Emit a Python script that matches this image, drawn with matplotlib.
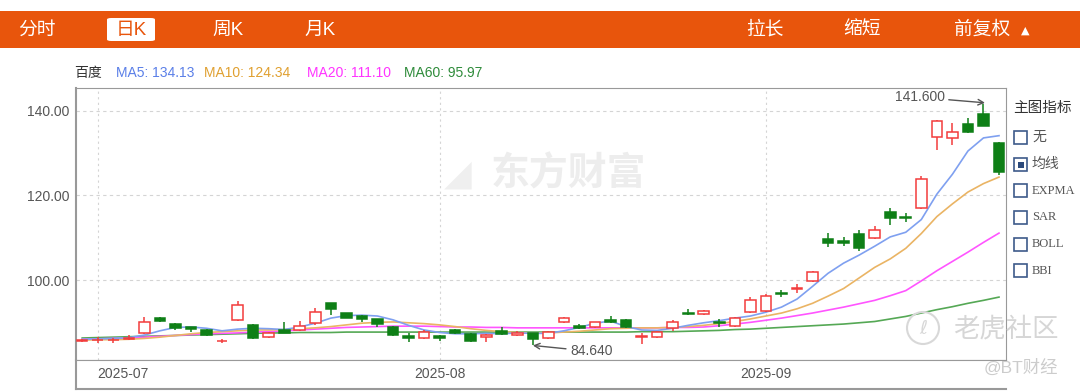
import numpy as np
import pandas as pd
import matplotlib
matplotlib.use("Agg")
import matplotlib.pyplot as plt
from matplotlib.patches import Rectangle, FancyBboxPatch, Ellipse

plt.rcParams['font.family'] = ['Liberation Sans', 'Noto Sans CJK SC', 'DejaVu Sans']

# trading days (US market: 07-04 and 09-01 closed)
days = pd.bdate_range('2025-06-30', '2025-09-23')
days = days[~days.isin(pd.to_datetime(['2025-07-04', '2025-09-01']))]

opens = [85.6, 85.8, 85.8, 86.1, 87.4, 91.1, 89.6, 88.9, 88.2, 85.5,
         90.5, 89.3, 86.6, 88.3, 88.2, 89.9, 94.5, 92.1, 91.6, 90.7,
         88.9, 86.8, 86.2, 86.8, 88.3, 87.2, 86.6, 87.9, 87.1, 87.4,
         86.2, 90.0, 89.1, 88.9, 90.6, 90.5, 86.5, 86.6, 88.6, 92.3,
         91.9, 90.0, 89.2, 92.5, 92.7, 97.0, 97.9, 99.8, 109.6, 109.2,
         111.0, 109.9, 116.2, 115.0, 117.0, 133.9, 133.5, 136.9, 139.2, 132.5]
highs = [86.1, 86.6, 86.3, 86.9, 91.3, 91.3, 89.8, 89.0, 88.4, 86.0,
         95.0, 89.6, 87.8, 90.1, 90.4, 93.3, 94.6, 92.2, 91.7, 90.9,
         89.2, 87.4, 88.1, 87.0, 88.5, 87.5, 87.3, 89.0, 87.9, 87.6,
         88.0, 91.2, 89.7, 90.2, 91.4, 90.9, 87.5, 88.0, 90.6, 93.2,
         92.9, 90.7, 91.3, 96.0, 96.8, 97.6, 99.1, 102.1, 111.2, 110.2,
         111.8, 112.8, 117.0, 115.8, 124.6, 137.9, 137.2, 138.3, 141.6, 132.6]
lows = [85.3, 85.2, 85.1, 85.9, 87.2, 90.2, 88.3, 87.7, 86.8, 85.2,
        90.4, 86.0, 86.3, 87.4, 87.9, 89.3, 91.8, 91.0, 90.1, 88.9,
        86.8, 85.4, 86.0, 85.7, 87.2, 85.4, 85.4, 87.1, 86.8, 84.64,
        86.0, 89.9, 88.4, 88.7, 89.9, 88.7, 85.0, 86.3, 88.0, 91.8,
        91.7, 89.0, 88.8, 92.3, 92.4, 95.9, 96.9, 99.6, 107.7, 108.0,
        106.8, 109.7, 113.0, 113.8, 116.8, 130.8, 132.0, 134.7, 136.3, 124.9]
closes = [85.9, 85.9, 85.9, 86.3, 90.0, 90.4, 88.7, 88.4, 87.0, 85.7,
          94.0, 86.3, 87.5, 87.6, 89.1, 92.5, 93.1, 91.1, 90.8, 89.5,
          87.0, 86.2, 87.8, 86.2, 87.4, 85.6, 87.1, 87.3, 87.6, 86.0,
          87.8, 91.0, 88.6, 90.0, 90.0, 88.9, 86.7, 87.8, 90.1, 91.9,
          92.7, 89.8, 91.1, 95.3, 96.2, 96.6, 98.2, 102.0, 108.7, 108.8,
          107.5, 111.8, 114.6, 114.7, 123.8, 137.7, 135.1, 135.1, 136.4, 125.5]

ma5 = [86.0, 86.1, 86.2, 86.4, 87.0, 88.0, 88.8, 88.9, 88.6, 88.0,
       88.4, 88.6, 88.5, 88.3, 88.9, 89.8, 91.0, 91.6, 91.7, 91.5,
       90.6, 89.3, 88.2, 87.6, 87.3, 87.3, 87.4, 87.3, 87.5, 87.4,
       87.4, 88.0, 88.8, 89.8, 90.3, 89.0, 88.2, 88.1, 88.6, 89.3,
       89.9, 90.4, 91.0, 91.5, 92.4, 93.6, 95.5, 98.5, 101.6, 104.0,
       105.9, 108.0, 110.2, 111.3, 114.3, 120.3, 125.0, 130.5, 133.6, 134.13]
ma10 = [85.8, 85.9, 85.9, 86.0, 86.2, 86.5, 86.9, 87.3, 87.6, 87.8,
        88.0, 88.2, 88.2, 88.3, 88.5, 88.7, 89.0, 89.4, 89.8, 90.0,
        90.1, 89.9, 89.7, 89.4, 89.0, 88.5, 88.1, 87.8, 87.6, 87.5,
        87.5, 87.7, 87.9, 88.2, 88.5, 88.6, 88.7, 88.7, 88.8, 89.0,
        89.3, 89.7, 90.2, 90.8, 91.5, 92.2, 93.2, 94.5, 96.2, 98.0,
        100.5, 103.0, 105.0, 107.5, 111.0, 115.0, 118.0, 120.8, 122.8, 124.34]
ma20 = [86.0, 86.1, 86.2, 86.3, 86.5, 86.7, 86.9, 87.1, 87.3, 87.4,
        87.5, 87.7, 87.8, 88.0, 88.2, 88.4, 88.6, 88.8, 88.9, 89.0,
        89.1, 89.1, 89.1, 89.0, 88.9, 88.9, 88.8, 88.8, 88.7, 88.7,
        88.7, 88.7, 88.7, 88.7, 88.7, 88.7, 88.7, 88.7, 88.8, 88.8,
        88.9, 89.2, 89.6, 90.0, 90.5, 91.0, 91.6, 92.2, 92.9, 93.6,
        94.4, 95.2, 96.3, 97.5, 99.8, 102.2, 104.4, 106.6, 108.9, 111.10]
ma60 = [86.3, 86.4, 86.5, 86.6, 86.7, 86.8, 86.9, 87.0, 87.1, 87.2,
        87.3, 87.4, 87.5, 87.5, 87.6, 87.6, 87.6, 87.7, 87.7, 87.7,
        87.7, 87.7, 87.7, 87.7, 87.7, 87.7, 87.7, 87.7, 87.7, 87.7,
        87.7, 87.7, 87.7, 87.7, 87.7, 87.7, 87.8, 87.8, 87.8, 87.9,
        88.0, 88.1, 88.3, 88.4, 88.6, 88.8, 89.0, 89.2, 89.4, 89.6,
        89.9, 90.2, 90.8, 91.4, 92.2, 93.0, 93.7, 94.5, 95.2, 95.97]

ma_names = ['MA5', 'MA10', 'MA20', 'MA60']
ma_text_colors = ['#5a7fe8', '#e0a030', '#ff33ff', '#2e8b3a']
ma_line_colors = ['#7fa0f0', '#eab464', '#ff55ff', '#55a855']
stock_name = '百度'
header_left = ['分时', '日K', '周K', '月K']
header_right = ['拉长', '缩短', '前复权']
indicators = ['无', '均线', 'EXPMA', 'SAR', 'BOLL', 'BBI']

W, H = 1080, 392
fig = plt.figure(figsize=(W / 100, H / 100), dpi=100)


def fx(x):
    return x / W


def fy(y):
    return 1 - y / H


# orange header
fig.patches.append(Rectangle((0, fy(48)), 1, fy(11) - fy(48), transform=fig.transFigure,
                             facecolor='#e8550c', edgecolor='none'))
fig.patches.append(FancyBboxPatch((fx(107), fy(41)), fx(48), fy(18) - fy(41),
                                  boxstyle='round,pad=0,rounding_size=0.004',
                                  transform=fig.transFigure, facecolor='white', edgecolor='none'))
for t, x in zip(header_left, [37, 131, 228, 320]):
    c = '#e8550c' if t == '日K' else 'white'
    fig.text(fx(x), fy(30), t, color=c, fontsize=13.5, ha='center', va='center')
for t, x in zip(header_right, [765, 862, 982]):
    fig.text(fx(x), fy(30), t, color='white', fontsize=13.5, ha='center', va='center')
fig.text(fx(1025), fy(31), '▲', color='white', fontsize=8, ha='center', va='center',
         family='DejaVu Sans')

# MA legend row
fig.text(fx(74), fy(73), stock_name, color='#333333', fontsize=10, va='center')
lx = [116, 204, 307, 404]
vals = [ma5[-1], ma10[-1], ma20[-1], ma60[-1]]
for n, v, c, x in zip(ma_names, vals, ma_text_colors, lx):
    fig.text(fx(x), fy(73), f'{n}: {v:.2f}', color=c, fontsize=10, va='center')

# main axes
ax = fig.add_axes([fx(76), fy(360), fx(1006) - fx(76), fy(88) - fy(360)])
x = np.arange(len(days))
o = np.array(opens)
c = np.array(closes)
up = c >= o
red, green = '#f23c3c', '#0e7f16'
cols = np.where(up, red, green)

ax.vlines(x, lows, highs, colors=cols, linewidth=1.1, zorder=3)
bottom = np.minimum(o, c)
height = np.maximum(np.abs(c - o), 0.12)
ax.bar(x, height, bottom=bottom, width=0.68, color=np.where(up, 'white', green),
       edgecolor=cols, linewidth=1.1, zorder=4)

for vals_ma, col in zip([ma60, ma20, ma10, ma5], ma_line_colors[::-1]):
    ax.plot(x, vals_ma, color=col, linewidth=1.2, zorder=2)

ax.set_xlim(-0.4, len(days) - 0.55)
ax.set_ylim(81.1, 145.4)
ax.set_yticks([100, 120, 140])
ax.set_yticklabels([f'{v:.2f}' for v in [100, 120, 140]], fontsize=10, color='#555555')
ax.tick_params(axis='y', length=0, pad=5)
ax.set_xticks([])
ax.grid(axis='y', color='#d4d4d4', linestyle=(0, (3, 3)), linewidth=0.8)

month_idx = [i for i in range(1, len(days)) if days[i].month != days[i - 1].month]
for i in month_idx:
    ax.axvline(i, color='#d4d4d4', linestyle=(0, (2, 3)), linewidth=0.8, zorder=0)
for s in ax.spines.values():
    s.set_color('#999999')
ax.spines['left'].set_linewidth(1.5)

# watermark
ax.text(0.53, 0.68, '东方财富', transform=ax.transAxes, fontsize=28, fontweight='bold',
        color='#ededed', ha='center', va='center', zorder=1)
ax.text(0.41, 0.68, '◢', transform=ax.transAxes, fontsize=26, color='#efefef',
        ha='center', va='center', zorder=1, family='DejaVu Sans')

# high / low annotations
hi = int(np.argmax(highs))
lo = int(np.argmin(lows))
ax.annotate(f'{highs[hi]:.3f}', xy=(hi + 0.1, highs[hi] + 0.3), xytext=(hi - 2.5, highs[hi] + 1.6),
            ha='right', va='center', fontsize=10, color='#555555',
            arrowprops=dict(arrowstyle='->', color='#555555', lw=1, shrinkA=1, shrinkB=0))
ax.annotate(f'{lows[lo]:.3f}', xy=(lo, lows[lo] - 0.1), xytext=(lo + 2.4, lows[lo] - 1.5),
            ha='left', va='center', fontsize=10, color='#555555',
            arrowprops=dict(arrowstyle='->', color='#555555', lw=1, shrinkA=1, shrinkB=0))

# date strip
ax2 = fig.add_axes([fx(76), fy(389), fx(1006) - fx(76), fy(360) - fy(389)], sharex=ax)
ax2.set_ylim(0, 1)
ax2.set_yticks([])
ax2.tick_params(axis='x', length=0, labelbottom=False)
for s in ax2.spines.values():
    s.set_color('#999999')
ax2.spines['right'].set_visible(False)
ax2.spines['left'].set_linewidth(1.5)
ax2.spines['bottom'].set_linewidth(1.5)
for k, i in enumerate(month_idx):
    ax2.text(i - (0.05 if k == 0 else 0), 0.5, days[i].strftime('%Y-%m'),
             ha='left' if k == 0 else 'center', va='center', fontsize=10, color='#555555')

# indicator panel
fig.text(fx(1013), fy(108), '主图指标', fontsize=10.5, color='#333333', va='center')
box_y = [137.5, 164.5, 190.5, 217.5, 244, 270.5]
for t, y in zip(indicators, box_y):
    fig.patches.append(Rectangle((fx(1014), fy(y + 6.5)), fx(13), fy(y - 6.5) - fy(y + 6.5),
                                 transform=fig.transFigure, facecolor='white',
                                 edgecolor='#3d5a8a', linewidth=1.2))
    if t == '均线':
        fig.patches.append(Rectangle((fx(1017.5), fy(y + 3)), fx(6), fy(y - 3) - fy(y + 3),
                                     transform=fig.transFigure, facecolor='#2c4a7c',
                                     edgecolor='none'))
    fs = 9 if t.isascii() else 10
    fig.text(fx(1032), fy(y), t, fontsize=fs, color='#555555', va='center',
             family=['Liberation Serif', 'Noto Sans CJK SC'])

# overlay watermarks at lower right
fig.patches.append(Ellipse((fx(923), fy(328)), 32 / W, 32 / H, transform=fig.transFigure,
                           facecolor='none', edgecolor='#d8d8d8', linewidth=1.5))
fig.text(fx(923), fy(328), 'ℓ', fontsize=14, color='#d8d8d8', ha='center', va='center',
         family='DejaVu Sans')
fig.text(fx(1006), fy(329), '老虎社区', fontsize=19, color='#d6d6d6', ha='center', va='center')
fig.text(fx(1021), fy(367), '@BT财经', fontsize=12.5, color='#cccccc', ha='center', va='center')

fig.savefig('out.png', dpi=100, facecolor='white')
